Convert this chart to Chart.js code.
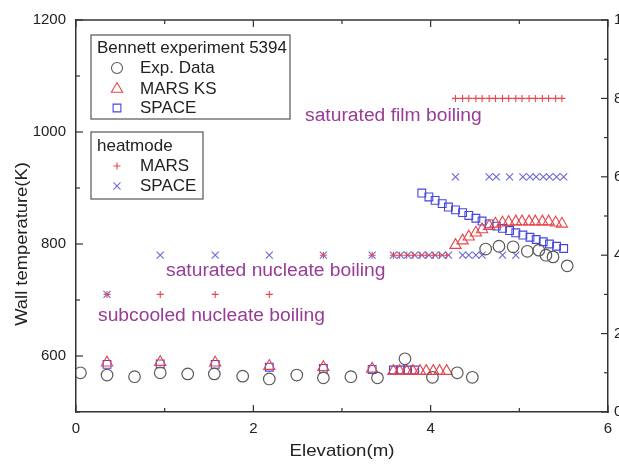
<!DOCTYPE html>
<html lang="en">
  <head>
    <meta charset="UTF-8" />
    <title>Wall temperature</title>
    <style>
      body { margin: 0; overflow: hidden; background: #fff; }
      canvas { position: absolute; left: 0; top: 0; }
    </style>
  </head>
  <body>
    <canvas id="myChart" width="640" height="466"></canvas>
    <script src="https://cdn.jsdelivr.net/npm/chart.js@4.4.1/dist/chart.umd.min.js"></script>
    <script>
      // Bennett experiment 5394 - measured wall temperature
      var expX = [0.05, 0.35, 0.66, 0.95, 1.26, 1.56, 1.88, 2.18, 2.49, 2.79, 3.1, 3.4, 3.71, 4.02, 4.3, 4.47, 4.62, 4.77, 4.93, 5.09, 5.22, 5.3, 5.38, 5.54];
      var expT = [570, 566, 563, 570, 568, 568, 564, 559, 566, 561, 563, 561, 595, 562, 570, 562, 791, 796, 795, 787, 789, 780, 777, 761];

      // MARS KS wall temperature
      var marsX = [0.35, 0.95, 1.57, 2.18, 2.79, 3.34, 3.58, 3.65, 3.73, 3.8, 3.88, 3.95, 4.03, 4.1, 4.18,
                   4.28, 4.36, 4.43, 4.51, 4.58, 4.66, 4.73, 4.81, 4.88, 4.96, 5.03, 5.11, 5.18, 5.26, 5.33, 5.41, 5.48];
      var marsT = [588, 589, 588, 582, 580, 577, 573, 573, 573, 573, 573, 573, 573, 573, 573,
                   798, 806, 813, 820, 826, 832, 836, 838, 839, 840, 840, 840, 840, 840, 840, 838, 836];

      // SPACE wall temperature
      var spaceX = [0.35, 0.95, 1.57, 2.18, 2.79, 3.34, 3.58, 3.66, 3.74, 3.82,
                    3.9, 3.98, 4.05, 4.13, 4.2, 4.28, 4.36, 4.43, 4.51, 4.58, 4.66, 4.74, 4.81, 4.89, 4.96, 5.04, 5.12, 5.19, 5.27, 5.34, 5.42, 5.5];
      var spaceT = [585, 586, 585, 580, 578, 576, 575, 575, 575, 575,
                    891, 884, 878, 872, 866, 861, 856, 851, 846, 841, 836, 832, 828, 824, 820, 816, 812, 808, 804, 800, 796, 792];

      // heat transfer mode (right axis)
      var modeMars = [3, 3, 3, 3, 4, 4, 4, 4, 4, 4, 4, 4, 4, 4, 4,
                      8, 8, 8, 8, 8, 8, 8, 8, 8, 8, 8, 8, 8, 8, 8, 8, 8];
      var modeSpace = [3, 4, 4, 4, 4, 4, 4, 4, 4, 4,
                       4, 4, 4, 4, 4, 6, 4, 4, 4, 4, 6, 6, 4, 6, 4, 6, 6, 6, 6, 6, 6, 6];

      var xTicks = [0, 2, 4, 6];
      var yTicks = [600, 800, 1000, 1200];
      var y2Ticks = [0, 2, 4, 6, 8, 10];

      var notes = [
        { text: "saturated film boiling", x: 305, y: 116 },
        { text: "saturated nucleate boiling", x: 166, y: 271 },
        { text: "subcooled nucleate boiling", x: 98, y: 316 }
      ];

      function pts(xs, ys) {
        return xs.map(function (x, i) { return { x: x, y: ys[i] }; });
      }

      var RED = "#e6464b";
      var BLUE = "#4646dc";
      var XBLUE = "#6a6ad8";
      var GREY = "#5a5a5a";
      var AXIS = "#333";
      var FONT = "Arial, 'Liberation Sans', sans-serif";

      function tickLines(ctx, scale, values, len, side, area) {
        values.forEach(function (v) {
          var p = scale.getPixelForValue(v);
          ctx.beginPath();
          if (side === "bottom") { ctx.moveTo(p, area.bottom); ctx.lineTo(p, area.bottom - len); }
          if (side === "top") { ctx.moveTo(p, area.top); ctx.lineTo(p, area.top + len); }
          if (side === "left") { ctx.moveTo(area.left, p); ctx.lineTo(area.left + len, p); }
          if (side === "right") { ctx.moveTo(area.right, p); ctx.lineTo(area.right - len, p); }
          ctx.stroke();
        });
      }

      function stretchText(ctx, t, x, y, k) {
        ctx.save();
        ctx.translate(x, y);
        ctx.scale(k, 1);
        ctx.fillText(t, 0, 0);
        ctx.restore();
      }

      var decor = {
        id: "decor",
        afterDraw: function (chart) {
          var ctx = chart.ctx;
          var a = chart.chartArea;
          var sx = chart.scales.x, sy = chart.scales.y, sy2 = chart.scales.y2;
          ctx.save();
          ctx.strokeStyle = AXIS;
          ctx.lineWidth = 1.5;
          ctx.beginPath();
          ctx.moveTo(a.left, a.top);
          ctx.lineTo(a.right, a.top);
          ctx.stroke();
          ctx.lineWidth = 1.2;
          tickLines(ctx, sx, [0, 2, 4, 6], 7, "bottom", a);
          tickLines(ctx, sx, [1, 3, 5], 4, "bottom", a);
          tickLines(ctx, sx, [0, 2, 4, 6], 7, "top", a);
          tickLines(ctx, sx, [1, 3, 5], 4, "top", a);
          tickLines(ctx, sy, [600, 800, 1000, 1200], 7, "left", a);
          tickLines(ctx, sy, [500, 700, 900, 1100], 4, "left", a);
          tickLines(ctx, sy2, [0, 2, 4, 6, 8, 10], 7, "right", a);
          tickLines(ctx, sy2, [1, 3, 5, 7, 9], 4, "right", a);

          // axis titles
          ctx.fillStyle = "#222";
          ctx.font = "17px " + FONT;
          ctx.textAlign = "center";
          ctx.textBaseline = "middle";
          stretchText(ctx, "Elevation(m)", (a.left + a.right) / 2, 451, 1.1);
          ctx.translate(22, 244);
          ctx.rotate(-Math.PI / 2);
          ctx.font = "17px " + FONT;
          stretchText(ctx, "Wall temperature(K)", 0, 0, 1.08);
          ctx.restore();

          // notes
          ctx.save();
          ctx.fillStyle = "#983c98";
          ctx.font = "18px " + FONT;
          ctx.textBaseline = "middle";
          notes.forEach(function (n) { stretchText(ctx, n.text, n.x, n.y, 1.07); });
          ctx.restore();

          // legend boxes
          ctx.save();
          ctx.strokeStyle = "#555";
          ctx.lineWidth = 1.2;
          ctx.fillStyle = "#fff";
          ctx.fillRect(91, 35, 199, 84);
          ctx.strokeRect(91, 35, 199, 84);
          ctx.fillRect(91, 132, 112, 67);
          ctx.strokeRect(91, 132, 112, 67);
          ctx.fillStyle = "#222";
          ctx.font = "17px " + FONT;
          ctx.textBaseline = "middle";
          var rows = [
            { t: "Bennett experiment 5394", x: 97, y: 48 },
            { t: "Exp. Data", x: 140, y: 68 },
            { t: "MARS KS", x: 140, y: 89 },
            { t: "SPACE", x: 140, y: 108 },
            { t: "heatmode", x: 97, y: 146 },
            { t: "MARS", x: 140, y: 166 },
            { t: "SPACE", x: 140, y: 186 }
          ];
          rows.forEach(function (r) { ctx.fillText(r.t, r.x, r.y); });
          var marks = [
            { s: "circle", c: GREY, y: 68, r: 5.5 },
            { s: "triangle", c: RED, y: 89, r: 6.5 },
            { s: "rect", c: BLUE, y: 108, r: 5.5 },
            { s: "cross", c: RED, y: 166, r: 3.5 },
            { s: "crossRot", c: XBLUE, y: 186, r: 5 }
          ];
          ctx.fillStyle = "rgba(0,0,0,0)";
          marks.forEach(function (m) {
            ctx.strokeStyle = m.c;
            ctx.lineWidth = 1.1;
            Chart.helpers.drawPoint(ctx, { pointStyle: m.s, radius: m.r, rotation: 0, borderWidth: 1.1 }, 117, m.y);
          });
          ctx.restore();
        }
      };

      new Chart("myChart", {
        type: "scatter",
        data: {
          datasets: [
            { label: "Exp. Data", data: pts(expX, expT), pointStyle: "circle", pointRadius: 5.8,
              borderColor: GREY, backgroundColor: "transparent", borderWidth: 1.2 },
            { label: "MARS KS", data: pts(marsX, marsT), pointStyle: "triangle", pointRadius: 6.5,
              borderColor: RED, backgroundColor: "transparent", borderWidth: 1.1 },
            { label: "SPACE", data: pts(spaceX, spaceT), pointStyle: "rect", pointRadius: 5.5,
              borderColor: BLUE, backgroundColor: "transparent", borderWidth: 1.1 },
            { label: "MARS", data: pts(marsX, modeMars), yAxisID: "y2", pointStyle: "cross", pointRadius: 3.5,
              borderColor: RED, backgroundColor: "transparent", borderWidth: 1.1 },
            { label: "SPACE ", data: pts(spaceX, modeSpace), yAxisID: "y2", pointStyle: "crossRot", pointRadius: 5,
              borderColor: XBLUE, backgroundColor: "transparent", borderWidth: 1.1 }
          ]
        },
        options: {
          responsive: false,
          animation: false,
          layout: { padding: { top: 20, left: 0, right: 0, bottom: 0 } },
          plugins: { legend: { display: false }, tooltip: { enabled: false } },
          scales: {
            x: {
              type: "linear", min: 0, max: 6,
              grid: { display: false, drawTicks: false },
              border: { display: true, color: AXIS, width: 1.5 },
              ticks: { stepSize: 2, padding: 8, color: "#222", font: { size: 15, family: FONT },
                callback: function (v) { return xTicks.indexOf(v) >= 0 ? String(v) : ""; } },
              afterFit: function (s) { s.height = 54; }
            },
            y: {
              min: 500, max: 1200,
              grid: { display: false, drawTicks: false },
              border: { display: true, color: AXIS, width: 1.5 },
              ticks: { stepSize: 200, includeBounds: false, padding: 10, color: "#222",
                font: { size: 15, family: FONT },
                callback: function (v) { return yTicks.indexOf(v) >= 0 ? String(v) : ""; } },
              afterFit: function (s) { s.width = 76; }
            },
            y2: {
              position: "right", min: 0, max: 10,
              grid: { display: false, drawTicks: false },
              border: { display: true, color: AXIS, width: 1.5 },
              ticks: { stepSize: 2, padding: 6, color: "#222",
                font: { size: 15, family: FONT },
                callback: function (v) { return y2Ticks.indexOf(v) >= 0 ? String(v) : ""; } },
              afterFit: function (s) { s.width = 32; }
            }
          }
        },
        plugins: [decor]
      });
    </script>
  </body>
</html>
